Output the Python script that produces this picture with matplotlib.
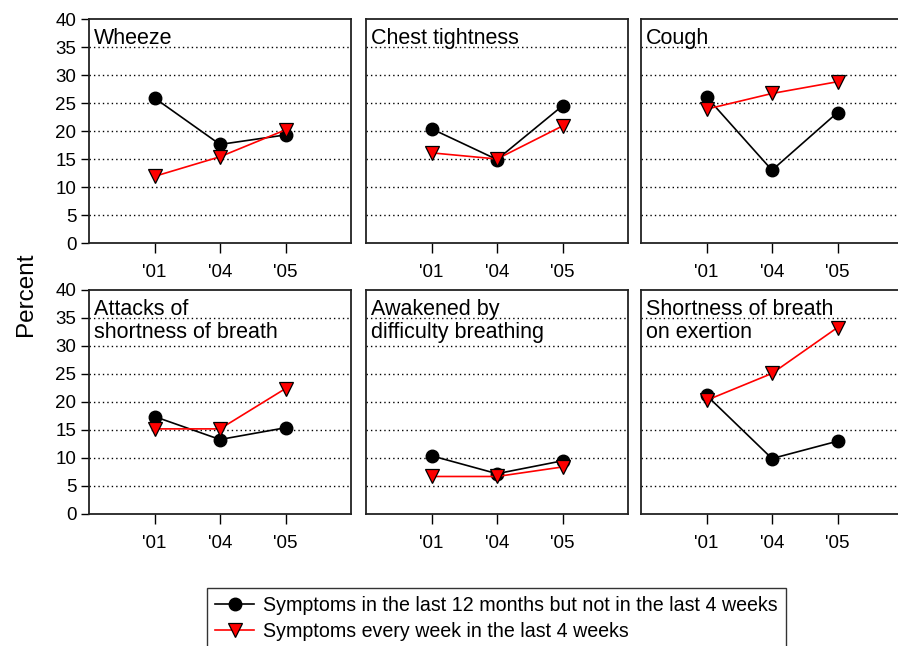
import matplotlib.pyplot as plt
from matplotlib.lines import Line2D

plt.rcParams['font.family'] = ['Liberation Sans', 'DejaVu Sans']

years = ["'01", "'04", "'05"]
panel_titles = ["Wheeze", "Chest tightness", "Cough",
                "Attacks of\nshortness of breath", "Awakened by\ndifficulty breathing",
                "Shortness of breath\non exertion"]

# symptoms in the last 12 months but not in the last 4 weeks
past_year = [
    [25.9, 17.6, 19.3],
    [20.4, 14.9, 24.5],
    [26.1, 13.0, 23.3],
    [17.4, 13.3, 15.4],
    [10.4, 7.2, 9.5],
    [21.2, 9.9, 13.0],
]
# symptoms every week in the last 4 weeks
every_week = [
    [11.9, 15.4, 20.2],
    [16.1, 15.0, 20.9],
    [23.9, 26.7, 28.8],
    [15.2, 15.2, 22.4],
    [6.7, 6.7, 8.4],
    [20.3, 25.1, 33.3],
]
legend_labels = ["Symptoms in the last 12 months but not in the last 4 weeks",
                 "Symptoms every week in the last 4 weeks"]

W, H = 898, 646
fig = plt.figure(figsize=(W / 100, H / 100), dpi=100)

lefts = [89, 366, 641]
tops = [19, 290]
pw, ph = 262, 224

for i in range(6):
    r, c = divmod(i, 3)
    ax = fig.add_axes([lefts[c] / W, 1 - (tops[r] + ph) / H, pw / W, ph / H])
    x = range(len(years))
    ax.plot(x, past_year[i], color='black', lw=1.2, marker='o', ms=9,
            mfc='black', mec='black', zorder=3)
    ax.plot(x, every_week[i], color='red', lw=1.2, marker='v', ms=9.5,
            mfc='red', mec='black', mew=0.9, zorder=4)
    ax.set_xlim(-1, 3)
    ax.set_ylim(0, 40)
    ax.set_xticks(list(x))
    ax.set_xticklabels(years, fontsize=13.5)
    ax.set_yticks(range(0, 41, 5))
    for yv in range(5, 40, 5):
        ax.axhline(yv, color='black', lw=1, ls=(0, (1, 2.2)), zorder=1)
    if c == 0:
        ax.tick_params(axis='y', labelsize=13.5, length=6, width=1, pad=3)
    else:
        ax.tick_params(axis='y', left=False, labelleft=False)
    ax.tick_params(axis='x', length=7, width=1, pad=8)
    for s in ax.spines.values():
        s.set_linewidth(1.3)
        s.set_color('#222222')
    ax.text(0.02, 0.96, panel_titles[i], transform=ax.transAxes, fontsize=15.5,
            va='top', ha='left', linespacing=1.15)

fig.text(26 / W, 1 - 294 / H, 'Percent', rotation=90, fontsize=17.5,
         ha='center', va='center')

handles = [
    Line2D([], [], color='black', lw=1.2, marker='o', ms=9, mfc='black', mec='black'),
    Line2D([], [], color='red', lw=1.2, marker='v', ms=9.5, mfc='red', mec='black', mew=0.9),
]
leg = fig.legend(handles, legend_labels, loc='upper left',
                 bbox_to_anchor=(207 / W, 1 - 588 / H), borderaxespad=0,
                 fontsize=14.1, frameon=True, fancybox=False, edgecolor='black',
                 handlelength=2.0, handletextpad=0.45, borderpad=0.42,
                 labelspacing=0.33)
leg.get_frame().set_linewidth(1.0)

plt.savefig('out.png', dpi=100)
